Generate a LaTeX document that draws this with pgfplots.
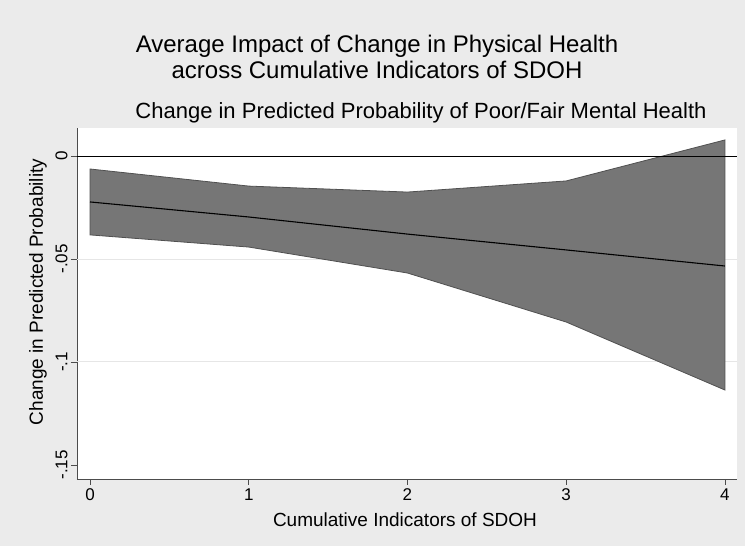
\documentclass[border=0pt]{standalone}
\usepackage{pgfplots}
\pgfplotsset{compat=1.18}
\usepackage{fontspec}
\setmainfont{Liberation Sans}
\definecolor{bgout}{HTML}{EBEBEB}
\definecolor{bandfill}{HTML}{767676}
\definecolor{bandedge}{HTML}{505050}
\definecolor{gridc}{HTML}{E6E6E6}
\begin{document}
\begin{tikzpicture}[x=1pt,y=1pt]
\fill[bgout] (-77,-67) rectangle (668,479);
\begin{axis}[
  at={(0,0)}, anchor=south west,
  scale only axis, width=660pt, height=351pt,
  xmin=-0.082, xmax=4.076, ymin=-0.1568, ymax=0.0136,
  axis background/.style={fill=white},
  axis x line*=bottom, axis y line*=left,
  x axis line style={-, black!70, line width=0.8pt},
  y axis line style={-, black!70, line width=0.8pt},
  tick align=outside, major tick length=6pt,
  tick style={black!70, line width=0.8pt},
  xtick={0,1,2,3,4}, xticklabels={0,1,2,3,4},
  ytick={-0.15,-0.1,-0.05,0}, yticklabels={-.15,-.1,-.05,0},
  extra y ticks={-0.1,-0.05}, extra y tick labels={},
  extra y tick style={grid=major, major grid style={gridc, line width=1pt}},
  yticklabel style={rotate=90, anchor=south, font=\fontsize{17}{17}\selectfont},
  xticklabel style={font=\fontsize{17}{17}\selectfont},
  clip=false,
]
\addplot[fill=bandfill, draw=bandedge, line width=0.8pt] coordinates {
  (0,-0.0063) (1,-0.0146) (2,-0.0175) (3,-0.0121) (4,0.0078)
  (4,-0.1136) (3,-0.0806) (2,-0.0568) (1,-0.0442) (0,-0.0383)
} -- cycle;
\addplot[black, line width=1.1pt] coordinates {
  (0,-0.0223) (1,-0.0296) (2,-0.0379) (3,-0.0456) (4,-0.0534)
};
\addplot[black, line width=1pt] coordinates {(-0.082,0) (4.076,0)};
\end{axis}
\node[align=center, font=\fontsize{24}{26}\selectfont] at (300,422) {Average Impact of Change in Physical Health\\across Cumulative Indicators of SDOH};
\node[font=\fontsize{22}{22}\selectfont] at (344,366) {Change in Predicted Probability of Poor/Fair Mental Health};
\node[rotate=90, font=\fontsize{19}{19}\selectfont] at (-39,187) {Change in Predicted Probability};
\node[font=\fontsize{19}{19}\selectfont] at (328,-41) {Cumulative Indicators of SDOH};
\pgfresetboundingbox
\useasboundingbox (-77,-67) rectangle (668,479);
\end{tikzpicture}
\end{document}
